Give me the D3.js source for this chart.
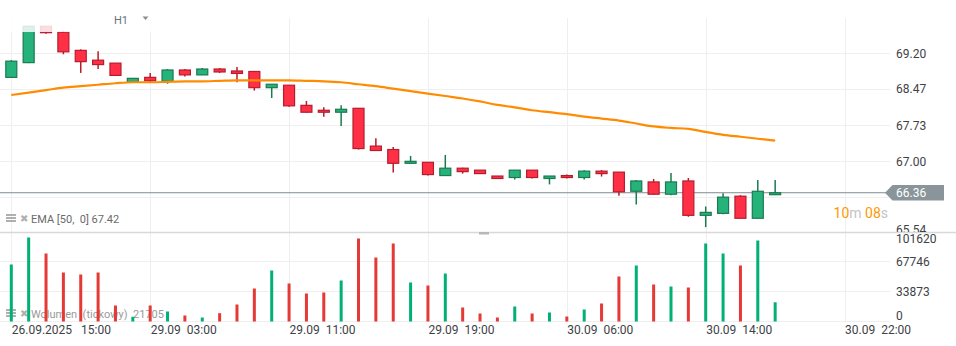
<!DOCTYPE html>
<meta charset="utf-8">
<style>
body { margin: 0; background: #fff; }
svg text { font-family: Roboto, "Noto Sans", Arial, sans-serif; }
.axis path, .axis line { display: none; }
.axis text { font-size: 12px; fill: #3d4246; }
.grid line { stroke: #efefef; stroke-width: 1; shape-rendering: crispEdges; }
</style>
<body>
<script src="https://d3js.org/d3.v7.min.js"></script>
<script>

// H1 candles, one per hour
var open  = [68.71,69.01,69.75,69.63,69.26,69.06,69.00,68.61,68.71,68.63,68.86,68.76,68.88,68.84,68.83,68.50,68.55,68.14,68.04,68.00,68.08,67.31,67.24,66.96,66.98,66.71,66.86,66.82,66.70,66.67,66.82,66.65,66.71,66.67,66.80,66.78,66.39,66.58,66.33,66.60,65.90,65.94,66.29,65.84,66.32];
var high  = [69.06,69.76,69.76,69.66,69.28,69.24,69.00,68.69,68.80,68.88,68.88,68.90,68.90,68.92,68.84,68.57,68.55,68.23,68.10,68.14,68.08,67.47,67.29,67.11,66.98,67.13,66.87,66.82,66.70,66.82,66.82,66.70,66.73,66.82,66.82,66.78,66.62,66.64,66.76,66.66,66.08,66.35,66.31,66.62,66.62];
var low   = [68.70,69.00,69.60,69.18,68.80,68.88,68.74,68.60,68.61,68.58,68.73,68.76,68.80,68.61,68.44,68.29,68.11,67.99,67.91,67.72,67.24,67.22,66.77,66.96,66.71,66.70,66.75,66.75,66.65,66.63,66.65,66.53,66.65,66.63,66.69,66.30,66.12,66.32,66.31,65.87,65.66,65.92,65.84,65.84,66.32];
var close = [69.04,69.75,69.62,69.23,69.03,68.97,68.75,68.69,68.64,68.86,68.76,68.88,68.82,68.79,68.50,68.57,68.13,68.00,68.00,68.06,67.26,67.22,66.96,67.00,66.73,66.86,66.79,66.75,66.65,66.82,66.67,66.70,66.67,66.80,66.75,66.38,66.60,66.33,66.58,65.90,65.96,66.27,65.84,66.39,66.36];
var volume = [64360,94844,76779,55327,53068,55327,18066,5307,18066,11291,6774,4516,9371,19195,37260,57585,42906,31615,32744,46293,93715,72262,88070,44034,40648,54197,15807,9033,4516,16936,9033,10162,5646,13549,20324,50810,63230,41777,39519,38389,88070,76779,63230,91457,21705];
var ema = [68.35,68.40,68.45,68.50,68.53,68.56,68.59,68.61,68.61,68.62,68.63,68.63,68.64,68.65,68.65,68.65,68.65,68.64,68.63,68.61,68.57,68.53,68.48,68.43,68.38,68.33,68.28,68.22,68.15,68.10,68.04,68.00,67.96,67.91,67.87,67.83,67.77,67.71,67.68,67.66,67.60,67.54,67.50,67.46,67.42];

var priceTicks = [69.20, 68.47, 67.73, 67.00, 66.27, 65.54];
var hiddenPriceTicks = [66.27];
var volTicks = [0, 33873, 67746, 101620];
var timeTickIdx = [0, 8, 16, 24, 32, 40, 48];
var timeTickLabels = ["26.09.2025   15:00", "29.09  03:00", "29.09  11:00", "29.09  19:00", "30.09  06:00", "30.09  14:00", "30.09  22:00"];
var lastPrice = 66.36;
var emaLabel = "EMA [50,  0] 67.42";
var volLabel = "Wolumen  (tickowy)  21705";

var width = 956, height = 346;
var plotRight = 890, paneTop = 18, paneSep = 232, volBottom = 321.5;

var green = "#26b37b", greenLine = "#1a7a50", red = "#ff3046", redLine = "#b51d2d";
var volGreen = "#00b074", volRed = "#e53935";

var svg = d3.select("body").append("svg")
    .attr("width", width)
    .attr("height", height);

var x = d3.scaleLinear().domain([0, 48]).range([11.3, 844.6]);
var y = d3.scaleLinear().domain([65.54, 69.20]).range([233, 53.3]);
var yv = d3.scaleLinear().domain([0, 101620]).range([volBottom, 231.5]);

var idx = d3.range(open.length);
function isUp(i) { return close[i] >= open[i]; }

// grid
var grid = svg.append("g").attr("class", "grid");
grid.selectAll(".vg").data(timeTickIdx).enter().append("line")
    .attr("x1", function(d){ return Math.round(x(d)) + 0.5; })
    .attr("x2", function(d){ return Math.round(x(d)) + 0.5; })
    .attr("y1", paneTop).attr("y2", volBottom);
grid.selectAll(".hg").data(priceTicks.slice(0, 5)).enter().append("line")
    .attr("x1", 0).attr("x2", plotRight)
    .attr("y1", function(d){ return y(d); })
    .attr("y2", function(d){ return y(d); });
grid.selectAll(".vlg").data(volTicks.slice(0, 3)).enter().append("line")
    .attr("x1", 0).attr("x2", plotRight)
    .attr("y1", function(d){ return yv(d); })
    .attr("y2", function(d){ return yv(d); });

// pane separator
svg.append("line")
    .attr("x1", 0).attr("x2", width)
    .attr("y1", paneSep + 0.5).attr("y2", paneSep + 0.5)
    .attr("stroke", "#d8d8d8").attr("stroke-width", 1.5);
svg.append("rect")
    .attr("x", 479).attr("y", paneSep).attr("width", 10).attr("height", 2.5)
    .attr("fill", "#b8b8b8");

svg.append("clipPath").attr("id", "priceClip")
  .append("rect").attr("x", 0).attr("y", paneTop).attr("width", plotRight).attr("height", paneSep - paneTop);

var pricePane = svg.append("g").attr("clip-path", "url(#priceClip)");

// current price line
pricePane.append("line")
    .attr("x1", 0).attr("x2", plotRight)
    .attr("y1", y(lastPrice)).attr("y2", y(lastPrice))
    .attr("stroke", "#7f8b90").attr("stroke-width", 1);

// candles
pricePane.selectAll(".wick").data(idx).enter().append("line")
    .attr("x1", function(i){ return x(i); })
    .attr("x2", function(i){ return x(i); })
    .attr("y1", function(i){ return y(high[i]); })
    .attr("y2", function(i){ return y(low[i]); })
    .attr("stroke", function(i){ return isUp(i) ? greenLine : redLine; })
    .attr("stroke-width", 1.5);

pricePane.selectAll(".body").data(idx).enter().append("rect")
    .attr("x", function(i){ return x(i) - 5.5; })
    .attr("width", 11)
    .attr("y", function(i){ return y(Math.max(open[i], close[i])); })
    .attr("height", function(i){ return Math.max(1, Math.abs(y(open[i]) - y(close[i]))); })
    .attr("fill", function(i){ return isUp(i) ? green : red; })
    .attr("stroke", function(i){ return isUp(i) ? greenLine : redLine; })
    .attr("stroke-width", 1.2);

// EMA 50
var line = d3.line()
    .x(function(d, i){ return x(i); })
    .y(function(d){ return y(d); })
    .curve(d3.curveMonotoneX);
pricePane.append("path")
    .datum(ema)
    .attr("d", line)
    .attr("fill", "none")
    .attr("stroke", "#ff8c00")
    .attr("stroke-width", 2.2);

// toolbar overlay
svg.append("rect")
    .attr("x", 0).attr("y", 0).attr("width", 172).attr("height", 32)
    .attr("fill", "#fff").attr("opacity", 0.83);
svg.append("text")
    .attr("x", 114).attr("y", 24)
    .attr("font-size", "11px").attr("fill", "#66727a")
    .text("H1");
svg.append("path")
    .attr("d", "M142.5,16.5 L148.5,16.5 L145.5,20 Z")
    .attr("fill", "#8a8f94");

// legends
function legendIcons(cy) {
    var g = svg.append("g").attr("fill", "#b0b0b0");
    g.append("rect").attr("x", 6).attr("y", cy - 4).attr("width", 10).attr("height", 2);
    g.append("rect").attr("x", 6).attr("y", cy - 1).attr("width", 10).attr("height", 2);
    g.append("rect").attr("x", 6).attr("y", cy + 2).attr("width", 10).attr("height", 2);
    g.append("text").attr("x", 20).attr("y", cy + 3.5)
        .attr("font-size", "10px").text("\u2716");
}
legendIcons(218);
svg.append("text")
    .attr("x", 31).attr("y", 223)
    .attr("font-size", "11px").attr("fill", "#6a6a6a")
    .style("white-space", "pre")
    .text(emaLabel);

legendIcons(313);
svg.append("text")
    .attr("x", 31).attr("y", 318)
    .attr("font-size", "11px").attr("fill", "#9a9a9a")
    .style("white-space", "pre")
    .text(volLabel);

// volume bars
svg.selectAll(".vol").data(idx).enter().append("rect")
    .attr("x", function(i){ return x(i) - 1.5; })
    .attr("width", 3)
    .attr("y", function(i){ return yv(volume[i]); })
    .attr("height", function(i){ return volBottom - yv(volume[i]); })
    .attr("fill", function(i){ return isUp(i) ? volGreen : volRed; });

// price axis (clipped at the pane separator)
svg.append("clipPath").attr("id", "axisClip")
  .append("rect").attr("x", plotRight).attr("y", 0).attr("width", width - plotRight).attr("height", paneSep);

svg.append("g")
    .attr("clip-path", "url(#axisClip)")
  .append("g")
    .attr("class", "axis")
    .attr("transform", "translate(" + 896 + ",0)")
    .call(d3.axisRight(y).tickValues(priceTicks).tickSize(0).tickPadding(0)
        .tickFormat(function(d){ return hiddenPriceTicks.indexOf(d) >= 0 ? "" : d3.format(".2f")(d); }))
    .selectAll("text")
    .attr("dy", function(d){ return d === 65.54 ? "0.05em" : "0.32em"; });

// volume axis
svg.append("g")
    .attr("class", "axis")
    .attr("transform", "translate(" + 896 + ",0)")
    .call(d3.axisRight(yv).tickValues(volTicks).tickSize(0).tickPadding(0))
    .selectAll("text")
    .attr("dy", function(d){ return d === 101620 ? "0.95em" : (d === 0 ? "-0.15em" : "0.32em"); })
    .text(function(d){ return d; });

// time axis
svg.append("g")
    .attr("class", "axis")
    .attr("transform", "translate(0," + volBottom + ")")
    .call(d3.axisBottom(x).tickValues(timeTickIdx).tickSize(0).tickPadding(0)
        .tickFormat(function(d, i){ return timeTickLabels[i]; }))
    .selectAll("text")
    .attr("text-anchor", "start")
    .attr("y", 12).attr("dy", 0)
    .style("white-space", "pre");

// last price marker
var ly = y(lastPrice);
svg.append("path")
    .attr("d", "M885," + ly + " L892.5," + (ly - 7.7) + " L944," + (ly - 7.7) + " L944," + (ly + 7.8) + " L892.5," + (ly + 7.8) + " Z")
    .attr("fill", "#89959a");
svg.append("text")
    .attr("x", 896).attr("y", ly + 4.3)
    .attr("font-size", "12px").attr("fill", "#fff")
    .text(d3.format(".2f")(lastPrice));

// candle countdown
var cd = svg.append("text")
    .attr("x", 888).attr("y", 217.5)
    .attr("text-anchor", "end")
    .attr("font-size", "14px");
cd.append("tspan").attr("fill", "#ff9800").text("10");
cd.append("tspan").attr("fill", "#c4c4c4").text("m ");
cd.append("tspan").attr("fill", "#ff9800").text("08");
cd.append("tspan").attr("fill", "#c4c4c4").text("s");

</script>
</body>
